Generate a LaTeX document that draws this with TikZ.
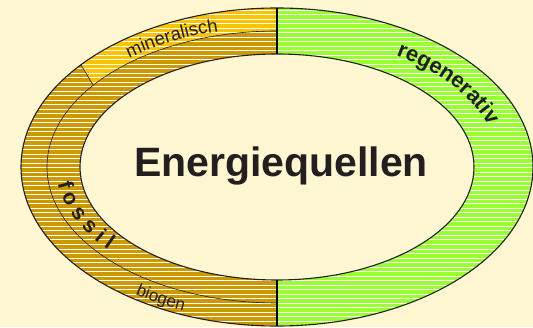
\documentclass[tikz,border=0pt]{standalone}
\usepackage{fontspec}
\setmainfont{Liberation Sans}
\usepackage{xcolor}
\usetikzlibrary{calc,decorations.text}

\definecolor{bgcream}{HTML}{FFF6D2}
\definecolor{fossilgold}{HTML}{CC9900}
\definecolor{minyellow}{HTML}{F8C400}
\definecolor{regengreen}{HTML}{99FF33}
\definecolor{inkdark}{HTML}{231F20}

\begin{document}
\begin{tikzpicture}[x=1pt,y=1pt,line width=1pt]
    \fill[bgcream] (0,0) rectangle (533,327);
    \useasboundingbox (0,0) rectangle (533,327);
    \coordinate (c) at (277,160);
    \coordinate (m1) at ($(c)+(140:256pt and 159pt)$);
    \coordinate (m2) at ($(c)+(143:230pt and 136pt)$);
    % the two halves of the ring
    \begin{scope}
      \clip (0,0) rectangle (277,327);
      \fill[fossilgold] (c) ellipse[x radius=256pt,y radius=159pt];
    \end{scope}
    \begin{scope}
      \clip (277,0) rectangle (533,327);
      \fill[regengreen] (c) ellipse[x radius=256pt,y radius=159pt];
    \end{scope}
    % mineralisch part
    \begin{scope}
      \clip ($(m1)!-1.5!(m2)$) -- ($(m1)!2.2!(m2)$) -- (277,200) -- (277,330) -- cycle;
      \fill[minyellow] (c) ellipse[x radius=256pt,y radius=159pt];
      \fill[fossilgold] (c) ellipse[x radius=230pt,y radius=136pt];
    \end{scope}
    % white stripes
    \begin{scope}
      \clip (c) ellipse[x radius=256pt,y radius=159pt];
      \foreach \y in {1.5,6,...,327}
        \draw[white,line width=1pt] (0,\y) -- (533,\y);
    \end{scope}
    \fill[bgcream] (c) ellipse[x radius=197pt,y radius=113pt];
    % outlines
    \draw[inkdark,line width=0.6pt] ($(c)+(0,136)$) arc[start angle=90,end angle=270,x radius=230pt,y radius=136pt];
    \draw[inkdark,line width=0.6pt] (m1) -- (m2);
    \draw[inkdark,line width=1.1pt] (c) ellipse[x radius=256pt,y radius=159pt];
    \draw[inkdark,line width=1.1pt] (c) ellipse[x radius=197pt,y radius=113pt];
    \coordinate (ot) at ($(c)+(0,159)$);
    \coordinate (it) at ($(c)+(0,113)$);
    \coordinate (ib) at ($(c)+(0,-113)$);
    \coordinate (ob) at ($(c)+(0,-159)$);
    \draw[black,line width=2pt] (ot) -- (it);
    \draw[black,line width=2pt] (ib) -- (ob);
    % texts
    \node[inkdark,anchor=base,font=\fontsize{41}{41}\selectfont\bfseries] (title) at (281,150) {Energiequellen};
    \path[decorate,decoration={text along path,text align=left,
        text={|\fontsize{18.5}{18.5}\selectfont\color{inkdark}|mineralisch}}]
      ($(c)+(129:235pt and 140pt)$) arc[start angle=129,end angle=80,x radius=235pt,y radius=140pt];
    \path[decorate,decoration={text along path,text align=left,
        text={|\fontsize{17}{17}\selectfont\color{inkdark}|biogen}}]
      ($(c)+(235:247pt and 155pt)$) arc[start angle=235,end angle=265,x radius=247pt,y radius=155pt];
    \path[decorate,decoration={text along path,text align=center,
        text={|\fontsize{22}{22}\selectfont\bfseries\color{inkdark}|regenerativ}}]
      ($(c)+(62:223pt and 132pt)$) arc[start angle=62,end angle=12,x radius=223pt,y radius=132pt];
    \path[decorate,decoration={text along path,text align=center,
        text={|\fontsize{21.5}{21.5}\selectfont\bfseries\color{inkdark}|f o s s i l}}]
      ($(c)+(182:221pt and 129pt)$) arc[start angle=182,end angle=224,x radius=221pt,y radius=129pt];
  \end{tikzpicture}
\end{document}
